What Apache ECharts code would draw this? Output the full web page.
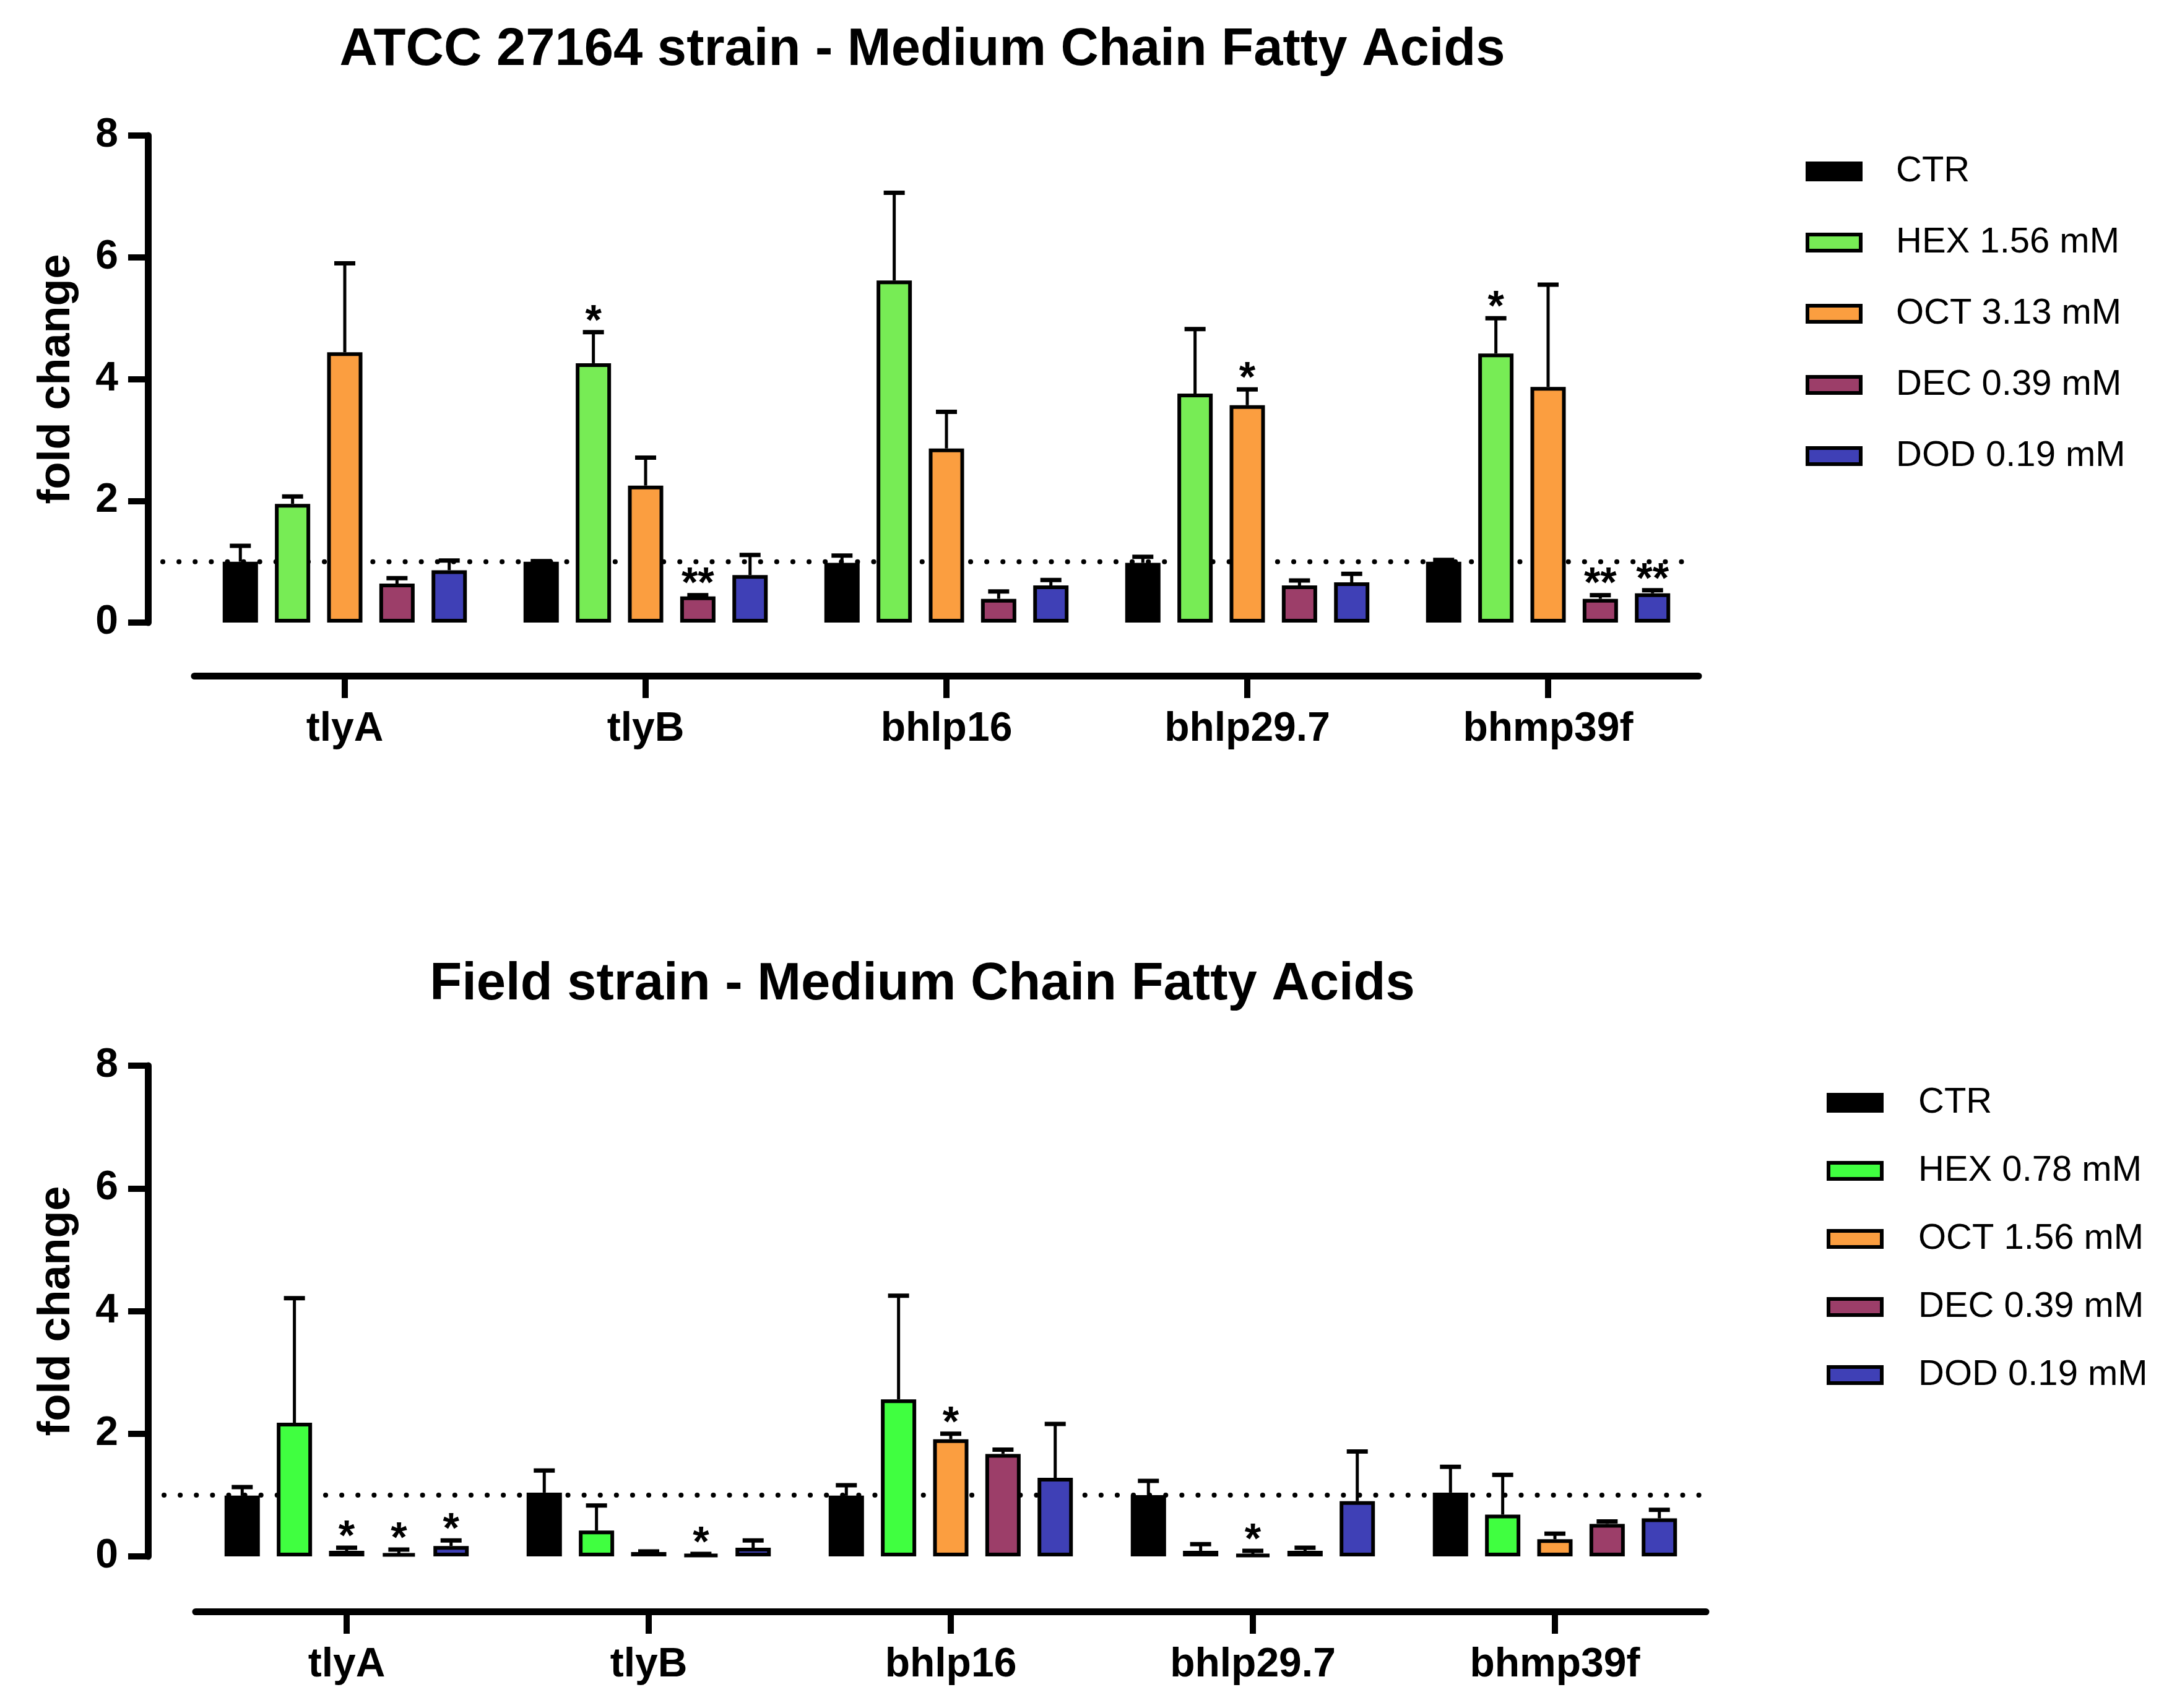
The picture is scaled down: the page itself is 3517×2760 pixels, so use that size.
<!DOCTYPE html>
<html>
<head>
<meta charset="utf-8">
<title>Medium Chain Fatty Acids</title>
<script src="https://cdn.jsdelivr.net/npm/echarts@6/dist/echarts.min.js"></script>
<style>
  html, body { margin: 0; padding: 0; background: #fff; }
  #main { width: 3517px; height: 2760px; }
</style>
</head>
<body>
<div id="main"></div>
<script>
// genes on the x axis
var genes = ['tlyA', 'tlyB', 'bhlp16', 'bhlp29.7', 'bhmp39f'];
var yTicks = [0, 2, 4, 6, 8];

// ATCC 27164 strain: mean fold change and top of the error bar
var atccNames = ['CTR', 'HEX 1.56 mM', 'OCT 3.13 mM', 'DEC 0.39 mM', 'DOD 0.19 mM'];
var atccCTR = [1.00, 1.00, 0.98, 0.98, 1.00];
var atccCTRUp = [1.26, 1.01, 1.10, 1.08, 1.03];
var atccHEX = [1.95, 4.26, 5.62, 3.76, 4.42];
var atccHEXUp = [2.07, 4.77, 7.06, 4.82, 5.00];
var atccOCT = [4.44, 2.25, 2.86, 3.57, 3.87];
var atccOCTUp = [5.90, 2.71, 3.46, 3.83, 5.55];
var atccDEC = [0.64, 0.43, 0.39, 0.61, 0.39];
var atccDECUp = [0.73, 0.45, 0.51, 0.69, 0.45];
var atccDOD = [0.86, 0.78, 0.61, 0.66, 0.48];
var atccDODUp = [1.02, 1.11, 0.70, 0.80, 0.53];
var atccSigCTR = ['', '', '', '', ''];
var atccSigHEX = ['', '*', '', '', '*'];
var atccSigOCT = ['', '', '', '*', ''];
var atccSigDEC = ['', '**', '', '', '**'];
var atccSigDOD = ['', '', '', '', '**'];

// Field strain
var fieldNames = ['CTR', 'HEX 0.78 mM', 'OCT 1.56 mM', 'DEC 0.39 mM', 'DOD 0.19 mM'];
var fieldCTR = [0.99, 1.04, 0.99, 1.00, 1.04];
var fieldCTRUp = [1.13, 1.40, 1.16, 1.23, 1.46];
var fieldHEX = [2.18, 0.42, 2.56, 0.09, 0.68];
var fieldHEXUp = [4.21, 0.83, 4.25, 0.20, 1.33];
var fieldOCT = [0.09, 0.07, 1.91, 0.03, 0.28];
var fieldOCTUp = [0.14, 0.08, 2.00, 0.09, 0.37];
var fieldDEC = [0.05, 0.03, 1.67, 0.09, 0.53];
var fieldDECUp = [0.11, 0.04, 1.74, 0.14, 0.57];
var fieldDOD = [0.17, 0.14, 1.28, 0.90, 0.62];
var fieldDODUp = [0.26, 0.26, 2.16, 1.71, 0.76];
var fieldSigCTR = ['', '', '', '', ''];
var fieldSigHEX = ['', '', '', '', ''];
var fieldSigOCT = ['*', '', '*', '*', ''];
var fieldSigDEC = ['*', '*', '', '', ''];
var fieldSigDOD = ['*', '', '', '', ''];

var refLine = 1;

var atccColors = ['#000000', '#77ec55', '#fb9e40', '#9c3e69', '#3f40b6'];
var fieldColors = ['#000000', '#40ff40', '#fb9e40', '#9c3e69', '#3f40b6'];

var FONT = '"Liberation Sans", Arial, sans-serif';
var BAR_W = 57;
var BAR_GAP = 0.48;
var PITCH = BAR_W * (1 + BAR_GAP);

var chart = echarts.init(document.getElementById('main'), null, { renderer: 'canvas' });

// one panel: grid, axes, bars, error bars, dotted line, legend
function panel(idx, cfg) {
    var series = [];
    cfg.means.forEach(function (m, k) {
        series.push({
            name: cfg.names[k],
            type: 'bar',
            xAxisIndex: idx,
            yAxisIndex: idx,
            barWidth: BAR_W,
            barGap: (BAR_GAP * 100) + '%',
            z: 3,
            itemStyle: { color: cfg.colors[k], borderColor: '#000', borderWidth: 6 },
            data: m
        });
    });
    cfg.means.forEach(function (m, k) {
        var sig = cfg.sigs[k];
        series.push({
            name: 'err' + idx + '-' + k,
            type: 'custom',
            xAxisIndex: idx,
            yAxisIndex: idx,
            z: 4,
            clip: false,
            silent: true,
            encode: { x: 0, y: 2 },
            data: m.map(function (v, j) { return [j, v, cfg.ups[k][j]]; }),
            renderItem: function (params, api) {
                var j = api.value(0);
                var base = api.coord([j, api.value(1)]);
                var top = api.coord([j, api.value(2)]);
                var cx = base[0] + (k - 2) * PITCH;
                var kids = [
                    { type: 'line', shape: { x1: cx, y1: base[1], x2: cx, y2: top[1] },
                      style: { stroke: '#000', lineWidth: 5 } },
                    { type: 'line', shape: { x1: cx - 17, y1: top[1], x2: cx + 17, y2: top[1] },
                      style: { stroke: '#000', lineWidth: 7 } }
                ];
                var s = sig[params.dataIndex];
                if (s) {
                    kids.push({ type: 'text', style: {
                        text: s, x: cx, y: top[1] - 16,
                        textAlign: 'center', textVerticalAlign: 'middle',
                        font: 'bold 68px ' + FONT, fill: '#000'
                    } });
                }
                return { type: 'group', children: kids };
            }
        });
    });
    // dotted line at fold change = 1
    series.push({
        name: 'ref' + idx,
        type: 'custom',
        xAxisIndex: idx,
        yAxisIndex: idx,
        z: 1,
        clip: false,
        silent: true,
        data: [[0, refLine]],
        renderItem: function (params, api) {
            var cs = params.coordSys;
            var y = api.coord([0, api.value(1)])[1];
            return {
                type: 'line',
                shape: { x1: cs.x - 51, y1: y, x2: cs.x + cs.width - 10, y2: y },
                style: { stroke: '#000', lineWidth: 8, lineDash: [0.1, 26], lineCap: 'round' }
            };
        }
    });

    return {
        title: {
            text: cfg.title, left: 1485, top: cfg.titleTop, textAlign: 'center',
            textStyle: { fontFamily: FONT, fontSize: 85, fontWeight: 'bold', color: '#000' }
        },
        grid: { left: cfg.left, top: cfg.top, width: cfg.width, height: cfg.height },
        xAxis: {
            type: 'category', gridIndex: idx, data: genes, offset: cfg.xOffset,
            axisLine: { show: true, onZero: false, lineStyle: { color: '#000', width: 11 } },
            axisTick: { show: true, interval: 0, alignWithLabel: true, length: 36,
                lineStyle: { color: '#000', width: 10 } },
            axisLabel: { margin: 54, fontFamily: FONT, fontSize: 66, fontWeight: 'bold', color: '#000' }
        },
        yAxis: {
            type: 'value', gridIndex: idx, min: yTicks[0], max: yTicks[yTicks.length - 1], interval: 2,
            offset: cfg.yOffset,
            name: 'fold change', nameLocation: 'middle', nameGap: 111,
            nameTextStyle: { fontFamily: FONT, fontSize: 72, fontWeight: 'bold', color: '#000' },
            axisLine: { show: true, lineStyle: { color: '#000', width: 11 } },
            axisTick: { show: true, length: 32, lineStyle: { color: '#000', width: 10 } },
            axisLabel: { margin: 48, fontFamily: FONT, fontSize: 66, fontWeight: 'bold', color: '#000' },
            splitLine: { show: false }
        },
        legend: {
            orient: 'vertical', left: cfg.legendLeft, top: cfg.legendTop,
            data: cfg.names, icon: 'rect', itemWidth: 86, itemHeight: 26,
            itemGap: cfg.legendGap, selectedMode: false,
            itemStyle: { borderColor: '#000', borderWidth: 6 },
            textStyle: { fontFamily: FONT, fontSize: 58, color: '#000', lineHeight: 58,
                padding: [0, 0, 0, cfg.legendPad] }
        },
        series: series
    };
}

var panelA = panel(0, {
    title: 'ATCC 27164 strain - Medium Chain Fatty Acids', titleTop: 34,
    names: atccNames, colors: atccColors,
    means: [atccCTR, atccHEX, atccOCT, atccDEC, atccDOD],
    ups: [atccCTRUp, atccHEXUp, atccOCTUp, atccDECUp, atccDODUp],
    sigs: [atccSigCTR, atccSigHEX, atccSigOCT, atccSigDEC, atccSigDOD],
    left: 314, top: 219, width: 2430, height: 787, xOffset: 86, yOffset: 75,
    legendLeft: 2912, legendTop: 243, legendGap: 57, legendPad: 52
});
var panelB = panel(1, {
    title: 'Field strain - Medium Chain Fatty Acids', titleTop: 1544,
    names: fieldNames, colors: fieldColors,
    means: [fieldCTR, fieldHEX, fieldOCT, fieldDEC, fieldDOD],
    ups: [fieldCTRUp, fieldHEXUp, fieldOCTUp, fieldDECUp, fieldDODUp],
    sigs: [fieldSigCTR, fieldSigHEX, fieldSigOCT, fieldSigDEC, fieldSigDOD],
    left: 316, top: 1722, width: 2440, height: 793, xOffset: 89, yOffset: 77,
    legendLeft: 2946, legendTop: 1748, legendGap: 52, legendPad: 54
});

chart.setOption({
    animation: false,
    backgroundColor: '#fff',
    title: [panelA.title, panelB.title],
    grid: [panelA.grid, panelB.grid],
    xAxis: [panelA.xAxis, panelB.xAxis],
    yAxis: [panelA.yAxis, panelB.yAxis],
    legend: [panelA.legend, panelB.legend],
    series: panelA.series.concat(panelB.series)
});
</script>
</body>
</html>
